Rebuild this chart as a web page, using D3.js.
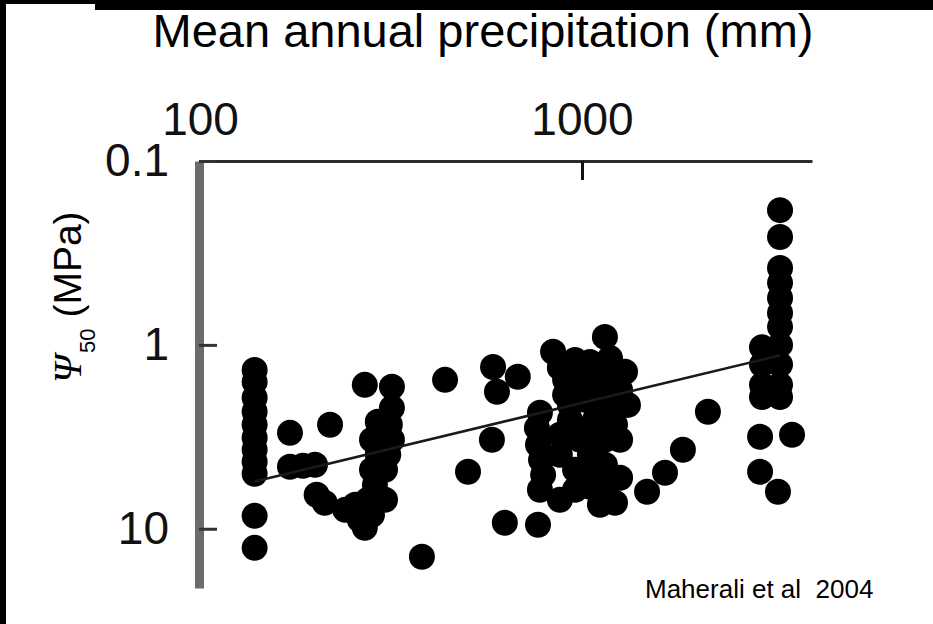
<!DOCTYPE html>
<html>
<head>
<meta charset="utf-8">
<script src="https://cdn.jsdelivr.net/npm/d3@7"></script>
<style>
  body { margin: 0; background: #fff; }
  svg { display: block; }
</style>
</head>
<body>
<svg width="933" height="624"></svg>
<script>
// mean annual precipitation (mm) and P50 (MPa, magnitude) per species
const precip = [
    139, 139, 139, 139, 139, 139, 139, 139, 139, 139, 139,
    172, 172, 186, 200, 202, 219,
    270, 318, 318, 292, 314, 282, 318, 292, 282, 287, 275, 282, 270, 240, 212, 262,
    305, 311, 305, 255,
    438, 381, 503, 581, 585, 679, 599, 628, 767,
    776, 762, 767, 781, 791, 776,
    1148, 840, 959, 875, 1049, 1184, 1296, 988, 1114, 1258, 1319, 903, 1018, 1148,
    930, 1081, 1220, 988, 1148, 875, 1049, 959, 1148, 1258, 1049, 1220, 875,
    903, 1049, 1198, 930, 1081, 1220, 1018, 875, 1258, 1081, 959, 1148, 1114,
    2136, 1837, 1649, 1480,
    3299, 3299, 3299, 3299, 3299, 3299, 3299, 2959, 3299, 2959, 3299, 2959, 3299,
    2959, 3299, 2925, 3546, 2925, 3258
]
const psi50 = [
    1.37, 1.59, 1.94, 2.31, 2.72, 3.20, 3.72, 4.32, 5.02, 8.50, 12.7,
    3.01, 4.60, 4.55, 4.49, 6.53, 2.72,
    1.65, 1.69, 2.20, 2.62, 2.72, 3.28, 3.28, 3.96, 4.78, 5.77, 6.96, 8.39, 9.88, 7.88, 7.22, 8.94,
    4.78, 3.96, 6.96, 7.41,
    1.55, 14.2, 4.90, 3.28, 1.32, 1.49, 1.80, 9.28, 9.51,
    2.34, 2.83, 3.49, 4.22, 5.09, 6.14,
    0.905, 1.09, 1.21, 1.33, 1.24, 1.18, 1.40, 1.55, 1.59, 1.76, 2.12, 1.87, 1.99, 2.12,
    2.56, 2.56, 2.72, 3.28, 3.28, 3.96, 3.96, 4.78, 4.49, 5.28, 5.91, 7.22, 6.96,
    1.55, 1.46, 1.46, 2.12, 1.76, 2.26, 2.90, 3.08, 3.28, 4.78, 6.14, 6.14, 7.41,
    2.31, 3.72, 4.96, 6.29,
    0.185, 0.259, 0.382, 0.460, 0.556, 0.670, 0.798, 1.03, 1.0, 1.28, 1.28, 1.65, 1.65,
    1.92, 1.92, 3.16, 3.08, 4.90, 6.29
]

// regression line end points
const fitPrecip = [139, 3299]
const fitPsi = [5.53, 1.14]

const xTicks = [100, 1000]
const yTicks = [0.1, 1, 10]

const svg = d3.select('svg')

// black scan border
svg.append('rect').attr('x', 0).attr('y', 0).attr('width', 6).attr('height', 624).attr('fill', 'black')
svg.append('rect').attr('x', 0).attr('y', 0).attr('width', 933).attr('height', 4).attr('fill', 'black')
svg.append('rect').attr('x', 95).attr('y', 0).attr('width', 838).attr('height', 10).attr('fill', 'black')

const x = d3.scaleLog()
    .domain([100, 4000])
    .range([200, 812])

const y = d3.scaleLog()
    .domain([0.1, 21])
    .range([161, 588])

const font = 'Liberation Sans, Arial, sans-serif'

svg.append('text')
    .attr('x', 483)
    .attr('y', 47)
    .attr('text-anchor', 'middle')
    .attr('font-family', font)
    .attr('font-size', 47)
    .text('Mean annual precipitation (mm)')

// top axis
const xAxis = svg.append('g')
    .attr('transform', 'translate(0,161)')
    .call(d3.axisTop(x)
        .tickValues(xTicks)
        .tickFormat(d3.format('d'))
        .tickSizeInner(-19)
        .tickSizeOuter(0)
        .tickPadding(26))

xAxis.select('.domain').attr('stroke', '#2b2b2b').attr('stroke-width', 3)
xAxis.selectAll('.tick line').attr('stroke', '#111').attr('stroke-width', 3)
xAxis.selectAll('.tick text')
    .attr('font-family', font)
    .attr('font-size', 46)
    .attr('fill', '#111')

// left axis
const yAxis = svg.append('g')
    .attr('transform', 'translate(199,0)')
    .call(d3.axisLeft(y)
        .tickValues(yTicks)
        .tickFormat(d => d < 1 ? '0.1' : String(d))
        .tickSizeInner(-18)
        .tickSizeOuter(0)
        .tickPadding(30))

yAxis.select('.domain').attr('stroke', '#6b6b6b').attr('stroke-width', 9)
yAxis.selectAll('.tick line').attr('stroke', '#333').attr('stroke-width', 3)
yAxis.selectAll('.tick text')
    .attr('font-family', font)
    .attr('font-size', 46)
    .attr('fill', '#111')

// y title with subscript
const yTitle = svg.append('text')
    .attr('transform', 'translate(81,383) rotate(-90)')
    .attr('font-family', font)
    .attr('font-size', 39)

yTitle.append('tspan')
    .attr('font-family', 'Liberation Serif, Times New Roman, serif')
    .attr('font-style', 'italic')
    .attr('font-size', 40)
    .text('\u03A8')
yTitle.append('tspan')
    .attr('font-size', 22)
    .attr('dy', 14)
    .attr('dx', 2)
    .text('50')
yTitle.append('tspan')
    .attr('dy', -14)
    .text(' (MPa)')

// points
svg.append('g')
    .selectAll('circle')
    .data(precip.map((p, i) => [p, psi50[i]]))
    .join('circle')
        .attr('cx', d => x(d[0]))
        .attr('cy', d => y(d[1]))
        .attr('r', 13)
        .attr('fill', 'black')

// fitted line
svg.append('line')
    .attr('x1', x(fitPrecip[0]))
    .attr('y1', y(fitPsi[0]))
    .attr('x2', x(fitPrecip[1]))
    .attr('y2', y(fitPsi[1]))
    .attr('stroke', '#1a1a1a')
    .attr('stroke-width', 2.5)

svg.append('text')
    .attr('x', 645)
    .attr('y', 598)
    .attr('font-family', font)
    .attr('font-size', 26)
    .style('white-space', 'pre')
    .text('Maherali et al  2004')
</script>
</body>
</html>
